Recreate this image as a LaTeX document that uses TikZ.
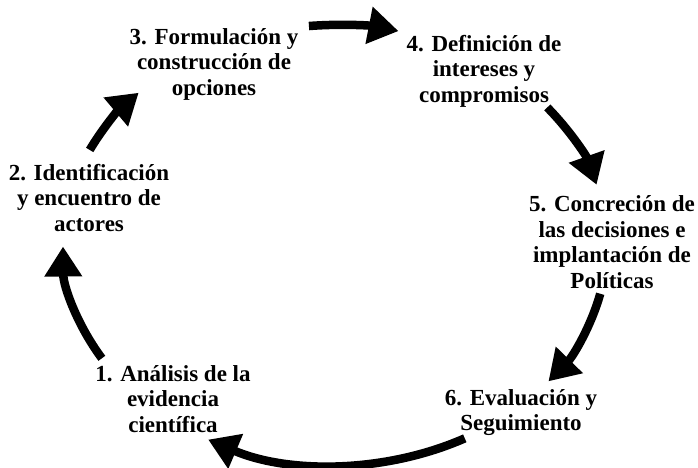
\documentclass[tikz,border=0pt]{standalone}
\usepackage{fontspec}
\setmainfont{Liberation Serif}
\usetikzlibrary{arrows.meta,calc}
\begin{document}
\begin{tikzpicture}[x=1pt,y=1pt,
  lbl/.style={align=center,inner sep=0pt,font=\bfseries\fontsize{23}{25.5}\selectfont},
  cyc/.style={line width=8.5pt,-{Triangle[length=30pt,width=36pt]}}]
\useasboundingbox (0,0) rectangle (698,467);
\coordinate (c) at (335,222);
\node[lbl] (n1) at (173,68) {1. Análisis de la\\evidencia\\científica};
\node[lbl] (n2) at (89,269) {2. Identificación\\y encuentro de\\actores};
\node[lbl] (n3) at (214,403) {3. Formulación y\\construcción de\\opciones};
\node[lbl] (n4) at (484,396) {4. Definición de\\intereses y\\compromisos};
\node[lbl] (n5) at (612,225) {5. Concreción de\\las decisiones e\\implantación de\\Políticas};
\node[lbl] (n6) at (521,54.5) {6. Evaluación y\\Seguimiento};
\coordinate (s12) at ($(c)+(211:272 and 220)$);
\coordinate (s23) at ($(c)+(154.4:272 and 220)$);
\coordinate (s34) at ($(c)+(95.5:272 and 220)$);
\coordinate (s45) at ($(c)+(38.7:272 and 220)$);
\coordinate (s56) at ($(c)+(-12.8:272 and 220)$);
\coordinate (s61) at ($(c)+(-61.5:272 and 220)$);
\draw[cyc] (s12) arc[start angle=211,end angle=180.4,x radius=272,y radius=220];
\draw[cyc] (s23) arc[start angle=154.4,end angle=136.2,x radius=272,y radius=220];
\draw[cyc] (s34) arc[start angle=95.5,end angle=76.5,x radius=272,y radius=220];
\draw[cyc] (s45) arc[start angle=38.7,end angle=15.9,x radius=272,y radius=220];
\draw[cyc] (s56) arc[start angle=-12.8,end angle=-38.3,x radius=272,y radius=220];
\draw[cyc] (s61) arc[start angle=-61.5,end angle=-117.8,x radius=272,y radius=220];
\end{tikzpicture}
\end{document}
